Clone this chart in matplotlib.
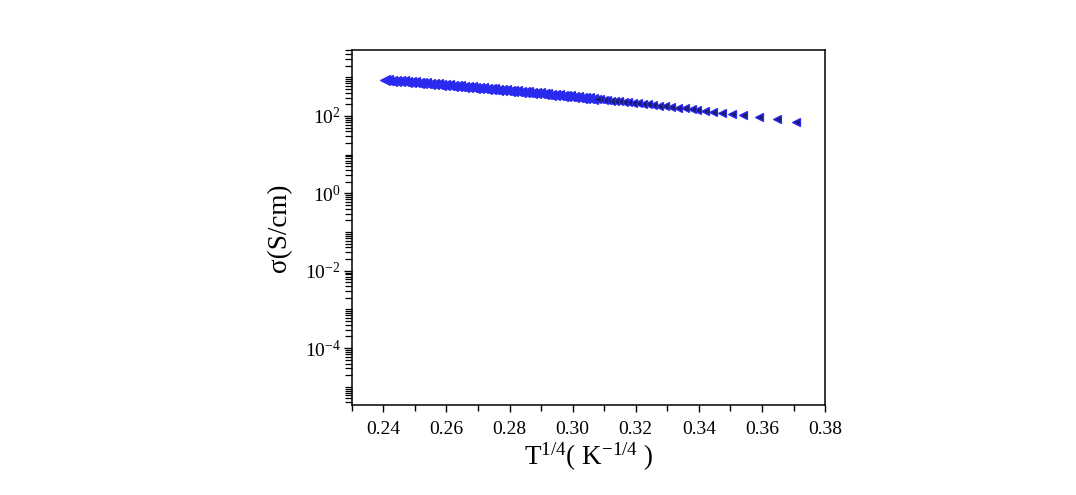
import matplotlib
matplotlib.use("Agg")
import matplotlib.pyplot as plt
from matplotlib.ticker import FixedLocator, LogFormatterMathtext, MultipleLocator, FormatStrFormatter, NullFormatter

plt.rcParams['font.family'] = ['Liberation Serif', 'DejaVu Serif']
plt.rcParams['mathtext.fontset'] = 'custom'
plt.rcParams['mathtext.rm'] = 'Liberation Serif'
plt.rcParams['mathtext.it'] = 'Liberation Serif:italic'
plt.rcParams['mathtext.default'] = 'regular'

# T^(-1/4) values (K^-1/4): dense high-T part (ascending), then sparse low-T part (descending)
x_dense = [0.2404, 0.2416, 0.2428, 0.2440, 0.2452, 0.2464, 0.2476, 0.2488, 0.2500, 0.2512,
           0.2524, 0.2536, 0.2548, 0.2560, 0.2572, 0.2584, 0.2596, 0.2608, 0.2620, 0.2632,
           0.2644, 0.2656, 0.2668, 0.2680, 0.2692, 0.2704, 0.2716, 0.2728, 0.2740, 0.2752,
           0.2764, 0.2776, 0.2788, 0.2800, 0.2812, 0.2824, 0.2836, 0.2848, 0.2860, 0.2872,
           0.2884, 0.2896, 0.2908, 0.2920, 0.2932, 0.2944, 0.2956, 0.2968, 0.2980, 0.2992,
           0.3004, 0.3016, 0.3028, 0.3040, 0.3052, 0.3064]
sigma_dense = [852.2, 837.3, 822.6, 808.1, 793.7, 779.6, 765.6, 751.8, 738.2, 724.7,
               711.4, 698.3, 685.4, 672.7, 660.1, 647.7, 635.5, 623.4, 611.5, 599.8,
               588.3, 576.9, 565.7, 554.6, 543.7, 533.0, 522.4, 512.0, 501.8, 491.6,
               481.7, 471.9, 462.3, 452.8, 443.5, 434.3, 425.3, 416.4, 407.7, 399.1,
               390.7, 382.3, 374.2, 366.2, 358.3, 350.5, 342.9, 335.4, 328.1, 320.9,
               313.8, 306.8, 299.9, 293.3, 286.7, 280.2]
x_sparse = [0.3708, 0.3648, 0.3591, 0.3540, 0.3504, 0.3474, 0.3446, 0.3420, 0.3394, 0.3377,
            0.3356, 0.3334, 0.3313, 0.3293, 0.3274, 0.3256, 0.3239, 0.3222, 0.3206, 0.3191,
            0.3176, 0.3162, 0.3148, 0.3135, 0.3122, 0.3110, 0.3098, 0.3086, 0.3076]
sigma_sparse = [71.3, 81.9, 93.3, 104.7, 113.3, 121.1, 128.7, 136.1, 143.9, 149.2,
                156.0, 163.3, 170.6, 177.8, 184.9, 191.8, 198.6, 205.5, 212.3, 218.7,
                225.4, 231.7, 238.1, 244.2, 250.5, 256.4, 262.4, 268.5, 273.8]

x_ticks = [0.24, 0.26, 0.28, 0.30, 0.32, 0.34, 0.36, 0.38]
y_major = [1e-4, 1e-2, 1e0, 1e2]

fig = plt.figure(figsize=(10.76, 4.95), dpi=100)
ax = fig.add_axes([0.3269, 0.1818, 0.4400, 0.7172])

ax.plot(x_dense, sigma_dense, linestyle='none', marker='<',
        markersize=7.6, markerfacecolor='#2a2aee', markeredgecolor='#2a2aee',
        markeredgewidth=0.9)
ax.plot(x_sparse, sigma_sparse, linestyle='none', marker='<',
        markersize=6.4, markerfacecolor='#1c1c78', markeredgecolor='#2a2af0',
        markeredgewidth=0.9)

ax.set_yscale('log')
ax.set_xlim(0.23, 0.38)
ax.set_ylim(10 ** -5.47, 10 ** 3.705)

ax.xaxis.set_major_locator(FixedLocator(x_ticks))
ax.xaxis.set_major_formatter(FormatStrFormatter('%.2f'))
ax.xaxis.set_minor_locator(MultipleLocator(0.01))

ax.yaxis.set_major_locator(FixedLocator(y_major))
ax.yaxis.set_major_formatter(LogFormatterMathtext())
minors = []
for e in range(-6, 4):
    for k in range(1, 10):
        v = k * 10.0 ** e
        if k == 1 and e % 2 == 0:
            continue
        minors.append(v)
ax.yaxis.set_minor_locator(FixedLocator(minors))
ax.yaxis.set_minor_formatter(NullFormatter())

ax.tick_params(axis='both', which='both', direction='out', top=False, right=False,
               colors='black', labelsize=14)
ax.tick_params(axis='x', which='major', length=5, width=1.0, pad=6.5)
ax.tick_params(axis='x', which='minor', length=4, width=1.0)
ax.tick_params(axis='y', which='major', length=6, width=1.0, pad=2)
ax.tick_params(axis='y', which='minor', length=5, width=0.9)

for s in ax.spines.values():
    s.set_linewidth(1.1)
    s.set_color('black')

ax.set_xlabel(r'T$^{1/4}$( K$^{-1/4}$ )', fontsize=19.5, labelpad=2)
ax.set_ylabel(r'σ(S/cm)', fontsize=19.5, labelpad=9)

fig.savefig('out.png', dpi=100, facecolor='white')
